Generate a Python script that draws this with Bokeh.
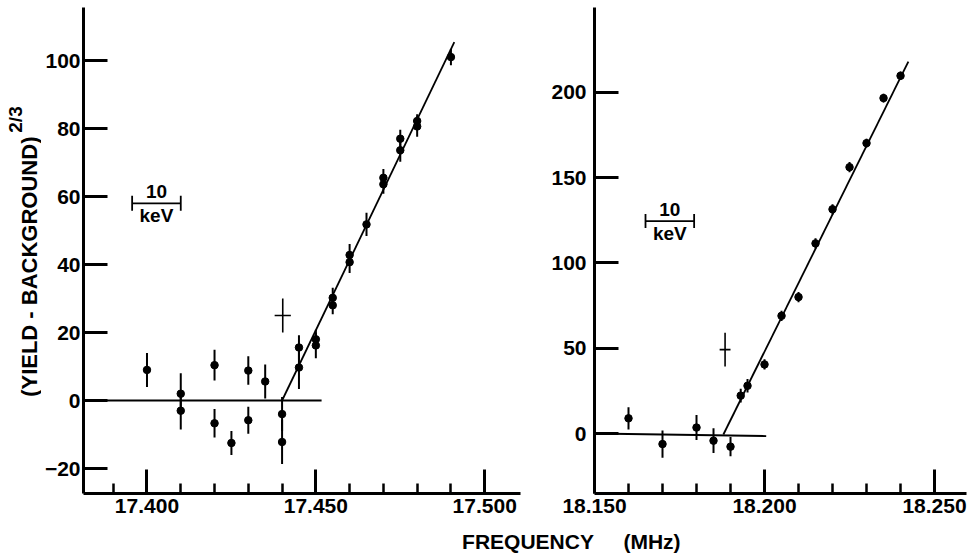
import math
from bokeh.plotting import figure
from bokeh.models import FixedTicker, NumeralTickFormatter, Label, Range1d
from bokeh.layouts import row, column
from bokeh.embed import file_html
from bokeh.resources import INLINE

# ---------------- data: left panel (17.4 MHz resonance) ----------------
left_freq = [17.400, 17.410, 17.410, 17.420, 17.420, 17.425, 17.430, 17.430, 17.435,
             17.440, 17.440, 17.445, 17.445, 17.450, 17.450, 17.455, 17.455, 17.460,
             17.460, 17.465, 17.470, 17.470, 17.475, 17.475, 17.480, 17.480, 17.490]
left_val = [9.0, 2.0, -3.0, 10.4, -6.7, -12.5, 8.8, -5.8, 5.6,
            -4.0, -12.2, 15.6, 9.7, 18.0, 16.2, 30.2, 28.0, 42.8,
            40.7, 51.8, 65.5, 63.6, 77.0, 73.6, 82.2, 80.6, 101.0]
left_err = [5.0, 6.0, 5.5, 4.5, 4.2, 3.5, 4.2, 4.0, 5.0,
            5.0, 6.5, 3.6, 6.3, 2.8, 3.8, 3.0, 2.6, 3.2,
            3.2, 3.4, 2.6, 2.8, 2.6, 3.4, 2.0, 3.0, 2.4]
left_cross_freq = [17.4402]
left_cross_val = [25.0]
left_cross_ferr = [0.0024]
left_cross_verr = [5.0]
left_base_freq = [17.3812, 17.4517]
left_base_val = [0.0, 0.0]
left_rise_freq = [17.440, 17.491]
left_rise_val = [0.0, 105.4]
left_scale_freq = [17.3956, 17.4100]
left_scale_val = 58.0

# ---------------- data: right panel (18.2 MHz resonance) ----------------
right_freq = [18.160, 18.170, 18.180, 18.185, 18.190, 18.193, 18.195, 18.200,
              18.205, 18.210, 18.215, 18.220, 18.225, 18.230, 18.235, 18.240]
right_val = [8.9, -6.2, 3.5, -4.2, -7.7, 22.2, 28.0, 40.5,
             69.0, 80.0, 111.5, 131.5, 156.2, 170.3, 196.7, 209.8]
right_err = [6.5, 8.0, 7.3, 7.3, 5.7, 4.0, 4.0, 3.0,
             3.0, 3.0, 3.0, 3.0, 3.0, 2.5, 2.5, 2.5]
right_cross_freq = [18.1884]
right_cross_val = [49.2]
right_cross_ferr = [0.0016]
right_cross_verr = [9.9]
right_base_freq = [18.150, 18.2005]
right_base_val = [0.0, -1.5]
right_rise_freq = [18.1879, 18.2423]
right_rise_val = [-0.6, 218.1]
right_scale_freq = [18.1650, 18.1793]
right_scale_val = 124.6

# ---------------- ticks and labels ----------------
left_x_ticks = [17.40, 17.45, 17.50]
left_x_minor = [17.39, 17.41, 17.42, 17.43, 17.44, 17.46, 17.47, 17.48, 17.49]
left_y_ticks = [-20, 0, 20, 40, 60, 80, 100]
right_x_ticks = [18.15, 18.20, 18.25]
right_x_minor = [18.16, 18.17, 18.18, 18.19, 18.21, 18.22, 18.23, 18.24]
right_y_ticks = [0, 50, 100, 150, 200]
y_title = "(YIELD - BACKGROUND)"
y_title_power = "2/3"
x_title_main = "FREQUENCY"
x_title_unit = "(MHz)"
scale_top = "10"
scale_bottom = "keV"

FONT = "Liberation Sans"
TOP = 7          # space above the plotting frames
BOTTOM = 32      # space below the plotting frames (tick labels)
FRAME_H = 486
H = TOP + FRAME_H + BOTTOM   # 525
H3 = 29


def style(p, xt, xm, yt, ystand):
    p.xaxis.ticker = FixedTicker(ticks=xt, minor_ticks=xm)
    p.xaxis.formatter = NumeralTickFormatter(format="0.000")
    p.yaxis.ticker = FixedTicker(ticks=yt)
    for ax in p.axis:
        ax.axis_line_width = 3
        ax.axis_line_color = "black"
        ax.major_tick_line_width = 3
        ax.major_tick_line_color = "black"
        ax.minor_tick_line_width = 2.5
        ax.minor_tick_line_color = "black"
        ax.major_tick_in = 24
        ax.major_tick_out = 0
        ax.minor_tick_in = 10
        ax.minor_tick_out = 0
        ax.major_label_text_font = FONT
        ax.major_label_text_font_style = "bold"
        ax.major_label_text_font_size = "21px"
        ax.major_label_text_color = "black"
    p.xaxis.major_label_standoff = 5
    p.yaxis.major_label_standoff = ystand
    p.yaxis.minor_tick_line_color = None
    p.grid.visible = False
    p.outline_line_color = None
    p.background_fill_color = "white"
    p.border_fill_color = "white"


def draw(p, f, v, e, cf, cv, cfe, cve, bf, bv, rf, rv, sf, sv, cap, pxu):
    p.segment(x0=f, y0=[a - b for a, b in zip(v, e)], x1=f, y1=[a + b for a, b in zip(v, e)],
              line_color="black", line_width=2)
    p.scatter(x=f, y=v, marker="circle", size=7.5, fill_color="black", line_color="black")
    p.segment(x0=cf, y0=[a - b for a, b in zip(cv, cve)], x1=cf, y1=[a + b for a, b in zip(cv, cve)],
              line_color="black", line_width=1.6)
    p.segment(x0=[a - b for a, b in zip(cf, cfe)], y0=cv, x1=[a + b for a, b in zip(cf, cfe)], y1=cv,
              line_color="black", line_width=1.6)
    p.line(x=bf, y=bv, line_color="black", line_width=1.8)
    p.line(x=rf, y=rv, line_color="black", line_width=1.8)
    # 10 keV scale bar
    p.segment(x0=[sf[0]], y0=[sv], x1=[sf[1]], y1=[sv], line_color="black", line_width=1.8)
    p.segment(x0=sf, y0=[sv - cap, sv - cap], x1=sf, y1=[sv + cap, sv + cap],
              line_color="black", line_width=1.8)
    xc = (sf[0] + sf[1]) / 2
    p.add_layout(Label(x=xc, y=sv + 12 / pxu, text=scale_top, text_align="center",
                       text_baseline="middle", text_font=FONT, text_font_style="bold",
                       text_font_size="19px", text_color="black"))
    p.add_layout(Label(x=xc, y=sv - 12.5 / pxu, text=scale_bottom, text_align="center",
                       text_baseline="middle", text_font=FONT, text_font_style="bold",
                       text_font_size="19px", text_color="black"))


# ---------------- y-axis title strip ----------------
p0 = figure(width=41, height=H, x_range=Range1d(0, 41), y_range=Range1d(0, H),
            x_axis_location=None, y_axis_location=None, output_backend="svg",
            toolbar_location=None, min_border=0)
p0.grid.visible = False
p0.outline_line_color = None
p0.add_layout(Label(x=29, y=H - 280, text=y_title, angle=math.pi / 2,
                    text_align="center", text_baseline="middle", text_font=FONT,
                    text_font_style="bold", text_font_size="22px", text_color="black"))
p0.add_layout(Label(x=15, y=H - 121, text=y_title_power, angle=math.pi / 2,
                    text_align="center", text_baseline="middle", text_font=FONT,
                    text_font_style="bold", text_font_size="19px", text_color="black"))

# ---------------- left figure ----------------
p1 = figure(width=499, height=H, x_range=Range1d(17.3812, 17.5106),
            y_range=Range1d(-27.35, 115.59), output_backend="svg", toolbar_location=None,
            min_border_left=39, min_border_right=20, min_border_top=TOP,
            min_border_bottom=BOTTOM)
style(p1, left_x_ticks, left_x_minor, left_y_ticks, 3)
draw(p1, left_freq, left_val, left_err, left_cross_freq, left_cross_val, left_cross_ferr,
     left_cross_verr, left_base_freq, left_base_val, left_rise_freq, left_rise_val,
     left_scale_freq, left_scale_val, 2.2, 3.4)

# ---------------- right figure ----------------
p2 = figure(width=436, height=H, x_range=Range1d(18.150, 18.2594),
            y_range=Range1d(-35.19, 249.85), output_backend="svg", toolbar_location=None,
            min_border_left=54, min_border_right=10, min_border_top=TOP,
            min_border_bottom=BOTTOM)
style(p2, right_x_ticks, right_x_minor, right_y_ticks, 8)
draw(p2, right_freq, right_val, right_err, right_cross_freq, right_cross_val, right_cross_ferr,
     right_cross_verr, right_base_freq, right_base_val, right_rise_freq, right_rise_val,
     right_scale_freq, right_scale_val, 4.1, 1.705)

# ---------------- shared x-axis title ----------------
p3 = figure(width=976, height=H3, x_range=Range1d(0, 976), y_range=Range1d(0, H3),
            x_axis_location=None, y_axis_location=None, output_backend="svg",
            toolbar_location=None, min_border=0)
p3.grid.visible = False
p3.outline_line_color = None
p3.add_layout(Label(x=527.5, y=H3 - 15.5, text=x_title_main, text_align="center",
                    text_baseline="middle", text_font=FONT, text_font_style="bold",
                    text_font_size="21px", text_color="black"))
p3.add_layout(Label(x=651.5, y=H3 - 15.5, text=x_title_unit, text_align="center",
                    text_baseline="middle", text_font=FONT, text_font_style="bold",
                    text_font_size="21px", text_color="black"))

layout = column(row(p0, p1, p2), p3)
open("out.html", "w").write(file_html(layout, INLINE))
